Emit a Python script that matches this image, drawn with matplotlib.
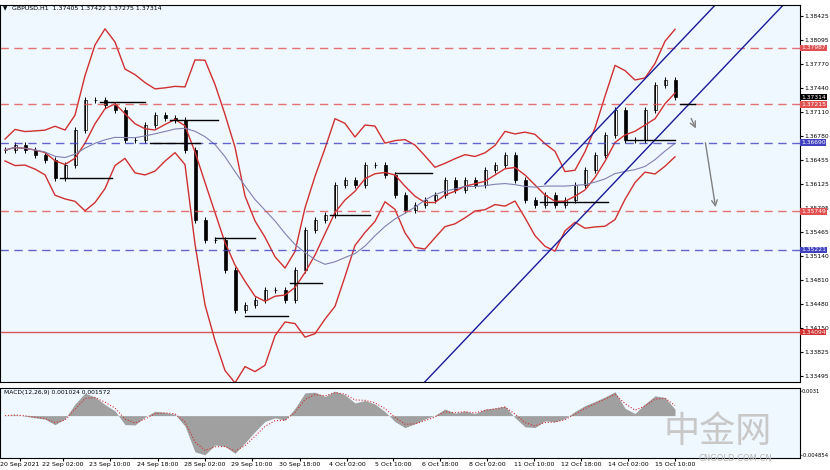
import numpy as np
import pandas as pd
import matplotlib.pyplot as plt

plt.rcParams['font.family'] = ['DejaVu Sans', 'Noto Sans CJK SC']

# closes, one candle per ~7 hourly bars
closes = [1.36589, 1.36658, 1.36589, 1.36521, 1.36452, 1.36206, 1.36384, 1.36863, 1.37274, 1.37274,
          1.37206, 1.37137, 1.36726, 1.36726, 1.36932, 1.37069, 1.37028, 1.37000, 1.36589, 1.35630,
          1.35356, 1.35356, 1.34945, 1.34397, 1.34466, 1.34534, 1.34671, 1.34671, 1.34534, 1.34945,
          1.35493, 1.35630, 1.35699, 1.36110, 1.36178, 1.36110, 1.36384, 1.36384, 1.36247, 1.35973,
          1.35767, 1.35836, 1.35904, 1.35973, 1.36178, 1.36041, 1.36178, 1.36110, 1.36315, 1.36384,
          1.36521, 1.36178, 1.35904, 1.35836, 1.35973, 1.35836, 1.35904, 1.36110, 1.36315, 1.36521,
          1.36795, 1.37137, 1.36726, 1.36726, 1.37137, 1.37480, 1.37548, 1.37314]
levels = [1.37987, 1.37215, 1.36690, 1.35749, 1.35221, 1.34094]
level_colors = ['#e05050', '#e05050', '#4040c0', '#e05050', '#4040c0', '#d03030']
yticks = [1.38425, 1.38095, 1.37770, 1.37440, 1.37110, 1.36780, 1.36455, 1.36125,
          1.35795, 1.35465, 1.35140, 1.34810, 1.34480, 1.34150, 1.33825, 1.33495]
date_labels = ['20 Sep 2021', '22 Sep 02:00', '23 Sep 10:00', '24 Sep 18:00', '28 Sep 02:00',
               '29 Sep 10:00', '30 Sep 18:00', '4 Oct 02:00', '5 Oct 10:00', '6 Oct 18:00',
               '8 Oct 02:00', '11 Oct 10:00', '12 Oct 18:00', '14 Oct 02:00', '15 Oct 10:00']
date_pos = [20, 63, 110, 158, 205, 252, 300, 347, 393, 440, 487, 534, 581, 628, 675]


def py(y):  # pixel row -> price
    return 1.38425 - (y - 16) * 0.000137


bg = '#f0f8ff'
c = pd.Series(closes)
o = c.shift(1).fillna(c[0])
xs = 5 + 10 * np.arange(len(c))
mid = c.rolling(4, min_periods=1).mean()
sd = c.rolling(6, min_periods=1).std().fillna(0)
slow = c.rolling(14, min_periods=1).mean()

fig = plt.figure(figsize=(8.3, 4.7), dpi=100, facecolor='white')
ax = fig.add_axes([0.0, 1 - 382 / 470, 800 / 830, 377 / 470], facecolor=bg)
ax2 = fig.add_axes([0.0, 1 - 458 / 470, 800 / 830, 70 / 470], facecolor=bg)

for x, op, cl in zip(xs, o, c):
    hi, lo = max(op, cl) + 0.0004, min(op, cl) - 0.0004
    ax.vlines(x, lo, hi, color='black', lw=0.7)
    ax.add_patch(plt.Rectangle((x - 1.5, min(op, cl)), 3, max(abs(cl - op), 0.00005),
                               facecolor='white' if cl >= op else 'black', edgecolor='black', lw=0.5))

ax.plot(xs, mid + 2 * sd + 0.0015, color='#d03030', lw=1)
ax.plot(xs, mid - 2 * sd - 0.0015, color='#d03030', lw=1)
ax.plot(xs, mid, color='#d03030', lw=1)
ax.plot(xs, slow, color='#8080b0', lw=0.8)

for lv, col in zip(levels, level_colors):
    ls = '-' if lv == levels[-1] else (0, (6, 4))
    ax.axhline(lv, color=col, lw=1, ls=ls, alpha=0.8)
    ax.text(801, lv, f'{lv:.5f}', fontsize=4.3, color='white', va='center',
            clip_on=False, bbox=dict(facecolor=col, edgecolor='none', pad=0.6))
ax.text(801, closes[-1], f'{closes[-1]:.5f}', fontsize=4.3, color='white', va='center', clip_on=False,
        bbox=dict(facecolor='black', edgecolor='none', pad=0.6))

# channel
ax.plot([420, 788], [py(387), py(0)], color='#1a1a9a', lw=1)
ax.plot([545, 720], [py(184), py(0)], color='#1a1a9a', lw=1)
# arrows
ax.annotate('', xy=(716, py(210)), xytext=(705, py(140)), arrowprops=dict(arrowstyle='->', color='gray'))
ax.annotate('', xy=(697, py(131)), xytext=(690, py(116)), arrowprops=dict(arrowstyle='->', color='gray'))
# pivot segments
for x0, x1, y in [(100, 145, 102), (170, 218, 120), (150, 200, 143), (60, 112, 178), (215, 255, 238),
                  (245, 288, 316), (290, 322, 283), (330, 370, 215), (395, 432, 173), (540, 608, 202),
                  (625, 675, 140), (680, 695, 104)]:
    ax.plot([x0, x1], [py(y), py(y)], color='black', lw=1)

ax.set_xlim(0, 800)
ax.set_ylim(py(382), py(5))
ax.yaxis.tick_right()
ax.set_yticks(yticks)
ax.set_yticklabels([f'{t:.5f}' for t in yticks], fontsize=4.3)
ax.tick_params(axis='y', length=2, pad=1)
ax.set_xticks([])
ax.text(12, py(10), 'GBPUSD,H1  1.37405 1.37422 1.37275 1.37314', fontsize=4.5)
ax.text(3, py(10), '▼', fontsize=4)

# MACD
ema_f = c.ewm(span=2).mean()
ema_s = c.ewm(span=4).mean()
macd = ema_f - ema_s
sig = macd.ewm(span=2).mean()
ax2.fill_between(xs, 0, macd, color='#a0a0a0', lw=0)
ax2.plot(xs, sig, color='#d03030', lw=0.8, ls=':')
ax2.set_xlim(0, 800)
ax2.yaxis.tick_right()
ax2.set_yticks([macd.max(), macd.min()])
ax2.set_yticklabels(['0.0031', '-0.004854'], fontsize=3.8)
ax2.tick_params(axis='y', length=1, pad=0.5)
ax2.set_xticks(date_pos)
ax2.set_xticklabels(date_labels, fontsize=4.5)
ax2.tick_params(axis='x', length=2, pad=1)
ax2.text(4, macd.max() * 0.9, 'MACD(12,26,9) 0.001024 0.001572', fontsize=4.3)
fig.text(0.93, 0.06, '中金网', fontsize=26, color='#c8c8c8', ha='right', family=['Noto Sans CJK SC'])
fig.text(0.93, 0.02, 'CNGOLD.COM.CN', fontsize=6, color='#b8b8b8', ha='right')

fig.savefig('out.png')
